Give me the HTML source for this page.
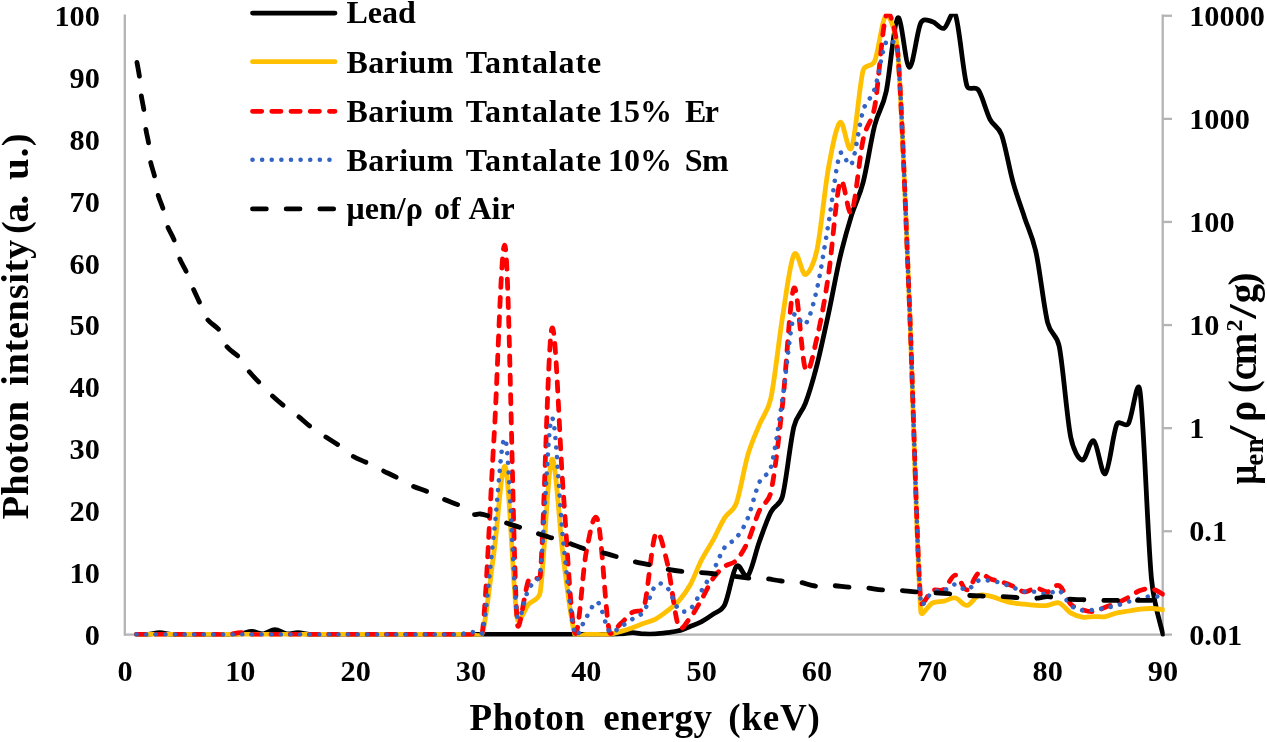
<!DOCTYPE html>
<html><head><meta charset="utf-8"><title>chart</title>
<style>html,body{margin:0;padding:0;background:#fff;}body{width:1267px;height:742px;overflow:hidden;position:relative;font-family:"Liberation Serif",serif;}</style></head>
<body>
<svg width="1267" height="742" viewBox="0 0 1267 742" style="position:absolute;left:0;top:0;display:block;will-change:transform">
<rect width="1267" height="742" fill="#fff"/>
<defs><filter id="soft" x="0" y="0" width="1267" height="742" filterUnits="userSpaceOnUse"><feGaussianBlur stdDeviation="0.45"/></filter></defs>
<g filter="url(#soft)">
<g stroke="#b4b4b4" stroke-width="2.3" fill="none">
<path d="M124.8,14.6 V635.7"/>
<path d="M124,634.6 H1172"/>
<path d="M1162.7,14.6 V635.7"/>
<path d="M1163,15.75 H1172"/>
<path d="M1163,118.85 H1172"/>
<path d="M1163,221.95 H1172"/>
<path d="M1163,325.05 H1172"/>
<path d="M1163,428.15 H1172"/>
<path d="M1163,531.25 H1172"/>
</g>
<defs><clipPath id="pa"><rect x="120" y="13.85" width="1044.7" height="622.75"/></clipPath></defs>
<g clip-path="url(#pa)" fill="none" stroke-linejoin="round" stroke-linecap="round" stroke-width="4.8">
<path stroke="#000" d="M136.53,634.50C138.46,634.50 144.22,634.81 148.07,634.50C151.91,634.19 155.76,632.64 159.60,632.64C163.44,632.64 167.29,634.19 171.13,634.50C174.98,634.81 178.82,634.50 182.67,634.50C186.51,634.50 190.36,634.50 194.20,634.50C198.04,634.50 201.89,634.50 205.73,634.50C209.58,634.50 213.42,634.50 217.27,634.50C221.11,634.50 224.96,634.60 228.80,634.50C232.64,634.40 236.49,634.40 240.33,633.88C244.18,633.37 248.02,631.41 251.87,631.41C255.71,631.41 259.56,634.19 263.40,633.88C267.24,633.57 271.09,629.55 274.93,629.55C278.78,629.55 282.62,633.37 286.47,633.88C290.31,634.40 294.16,632.54 298.00,632.64C301.84,632.75 305.69,634.19 309.53,634.50C313.38,634.81 317.22,634.50 321.07,634.50C324.91,634.50 328.76,634.50 332.60,634.50C336.44,634.50 340.29,634.50 344.13,634.50C347.98,634.50 351.82,634.50 355.67,634.50C359.51,634.50 363.36,634.50 367.20,634.50C371.04,634.50 374.89,634.50 378.73,634.50C382.58,634.50 386.42,634.50 390.27,634.50C394.11,634.50 397.96,634.50 401.80,634.50C405.64,634.50 409.49,634.50 413.33,634.50C417.18,634.50 421.02,634.50 424.87,634.50C428.71,634.50 432.56,634.50 436.40,634.50C440.24,634.50 444.09,634.50 447.93,634.50C451.78,634.50 455.62,634.50 459.47,634.50C463.31,634.50 467.16,634.50 471.00,634.50C474.84,634.50 478.69,634.50 482.53,634.50C486.38,634.50 490.22,634.50 494.07,634.50C497.91,634.50 501.76,634.50 505.60,634.50C509.44,634.50 513.29,634.50 517.13,634.50C520.98,634.50 524.82,634.50 528.67,634.50C532.51,634.50 536.36,634.50 540.20,634.50C544.04,634.50 547.89,634.50 551.73,634.50C555.58,634.50 559.42,634.50 563.27,634.50C567.11,634.50 570.96,634.50 574.80,634.50C578.64,634.50 582.49,634.50 586.33,634.50C590.18,634.50 594.02,634.50 597.87,634.50C601.71,634.50 605.56,634.60 609.40,634.50C613.24,634.40 617.09,634.19 620.93,633.88C624.78,633.57 628.62,632.64 632.47,632.64C636.31,632.64 640.16,633.68 644.00,633.88C647.84,634.09 651.69,634.09 655.53,633.88C659.38,633.68 663.22,633.16 667.07,632.64C670.91,632.13 674.76,631.82 678.60,630.79C682.44,629.76 686.29,628.01 690.13,626.46C693.98,624.91 697.82,623.57 701.67,621.51C705.51,619.45 709.36,616.87 713.20,614.09C717.04,611.31 721.51,611.47 724.73,604.81C728.58,596.87 732.42,571.31 736.27,566.47C740.11,561.62 743.96,579.87 747.80,575.74C751.64,571.62 755.49,552.34 759.33,541.73C763.18,531.11 767.02,519.56 770.87,512.04C774.71,504.51 779.88,505.89 782.40,496.57C786.24,482.35 790.09,442.25 793.93,426.68C797.07,413.98 801.62,413.49 805.47,403.18C809.31,392.87 813.16,379.78 817.00,364.83C820.84,349.89 824.69,331.44 828.53,313.50C832.38,295.56 836.22,273.61 840.07,257.21C843.91,240.82 847.76,227.63 851.60,215.16C855.44,202.68 859.29,197.32 863.13,182.38C866.98,167.43 870.82,140.63 874.67,125.47C878.51,110.32 882.44,109.02 886.20,91.46C890.04,73.52 893.89,21.88 897.73,17.86C901.58,13.84 905.42,66.51 909.27,67.34C913.11,68.16 916.96,30.43 920.80,22.80C923.41,17.62 928.49,20.64 932.33,21.57C936.18,22.49 940.02,29.50 943.87,28.37C947.71,27.24 952.08,6.49 955.40,14.76C959.24,24.35 963.09,73.31 966.93,85.89C968.73,91.78 974.97,85.15 978.47,90.22C982.31,95.79 986.16,111.87 990.00,119.29C993.84,126.71 998.22,125.69 1001.53,134.75C1005.38,145.27 1009.22,168.56 1013.07,182.38C1016.91,196.19 1020.76,205.88 1024.60,217.63C1028.44,229.38 1032.29,235.36 1036.13,252.89C1039.98,270.41 1043.82,307.21 1047.67,322.78C1050.81,335.48 1056.61,333.45 1059.20,346.28C1063.04,365.35 1066.89,418.23 1070.73,437.20C1073.28,449.76 1078.42,459.46 1082.27,460.08C1086.11,460.70 1089.96,438.64 1093.80,440.91C1097.64,443.18 1101.49,476.47 1105.33,473.69C1109.18,470.91 1113.02,432.56 1116.87,424.21C1119.28,418.96 1125.12,428.34 1128.40,423.59C1132.24,418.02 1137.38,373.62 1139.93,390.81C1143.78,416.68 1147.62,538.22 1151.47,578.84C1154.15,607.13 1161.08,625.22 1163.00,634.50"/>
<path stroke="#FFC000" d="M136.53,634.50C138.46,634.50 144.22,634.50 148.07,634.50C151.91,634.50 155.76,634.50 159.60,634.50C163.44,634.50 167.29,634.50 171.13,634.50C174.98,634.50 178.82,634.50 182.67,634.50C186.51,634.50 190.36,634.50 194.20,634.50C198.04,634.50 201.89,634.50 205.73,634.50C209.58,634.50 213.42,634.50 217.27,634.50C221.11,634.50 224.96,634.50 228.80,634.50C232.64,634.50 236.49,634.50 240.33,634.50C244.18,634.50 248.02,634.50 251.87,634.50C255.71,634.50 259.56,634.50 263.40,634.50C267.24,634.50 271.09,634.50 274.93,634.50C278.78,634.50 282.62,634.50 286.47,634.50C290.31,634.50 294.16,634.50 298.00,634.50C301.84,634.50 305.69,634.50 309.53,634.50C313.38,634.50 317.22,634.50 321.07,634.50C324.91,634.50 328.76,634.50 332.60,634.50C336.44,634.50 340.29,634.50 344.13,634.50C347.98,634.50 351.82,634.50 355.67,634.50C359.51,634.50 363.36,634.50 367.20,634.50C371.04,634.50 374.89,634.50 378.73,634.50C382.58,634.50 386.42,634.50 390.27,634.50C394.11,634.50 397.96,634.50 401.80,634.50C405.64,634.50 409.49,634.50 413.33,634.50C417.18,634.50 421.02,634.50 424.87,634.50C428.71,634.50 432.56,634.50 436.40,634.50C440.24,634.50 444.09,634.50 447.93,634.50C451.78,634.50 455.62,634.50 459.47,634.50C463.31,634.50 467.16,634.81 471.00,634.50C474.84,634.19 480.97,638.27 482.53,632.64C486.38,618.83 490.22,579.14 494.07,551.62C497.91,524.10 501.76,456.37 505.60,467.50C509.44,478.64 513.29,595.64 517.13,618.42C518.66,627.45 524.82,608.52 528.67,604.19C532.51,599.86 538.90,600.57 540.20,592.44C544.04,568.32 547.89,465.24 551.73,459.46C555.58,453.69 559.42,528.63 563.27,557.81C567.11,586.98 570.96,621.72 574.80,634.50C576.46,640.02 582.49,634.50 586.33,634.50C590.18,634.50 594.02,634.50 597.87,634.50C601.71,634.50 605.56,635.02 609.40,634.50C613.24,633.98 617.09,632.54 620.93,631.41C624.78,630.27 628.62,629.04 632.47,627.70C636.31,626.36 640.16,624.81 644.00,623.37C647.84,621.92 651.69,621.10 655.53,619.04C659.38,616.98 663.22,613.99 667.07,611.00C670.91,608.01 674.76,605.43 678.60,601.10C682.44,596.77 686.29,591.93 690.13,585.02C693.98,578.11 697.82,567.19 701.67,559.66C705.51,552.14 709.36,546.88 713.20,539.87C717.04,532.86 720.89,523.69 724.73,517.60C728.58,511.52 733.09,511.97 736.27,503.38C740.11,492.97 743.96,468.23 747.80,455.13C751.64,442.04 755.49,434.31 759.33,424.83C763.18,415.34 767.81,412.40 770.87,398.23C774.71,380.40 778.56,341.74 782.40,317.83C786.24,293.91 790.09,261.96 793.93,254.74C797.78,247.53 801.62,275.36 805.47,274.53C809.31,273.71 814.12,263.13 817.00,249.79C820.84,231.96 824.69,188.77 828.53,167.53C832.38,146.30 836.22,125.68 840.07,122.38C843.91,119.08 847.76,156.40 851.60,147.74C855.44,139.08 859.29,84.86 863.13,70.43C865.04,63.28 871.81,67.98 874.67,61.15C878.51,51.98 882.36,16.93 886.20,15.38C890.04,13.84 896.19,32.80 897.73,51.87C901.58,99.39 905.42,207.22 909.27,300.51C913.11,393.80 916.96,561.21 920.80,611.62C921.35,618.81 928.49,604.71 932.33,602.96C936.18,601.20 940.02,601.93 943.87,601.10C947.71,600.28 951.56,597.29 955.40,598.01C959.24,598.73 963.09,605.84 966.93,605.43C970.78,605.02 974.62,597.08 978.47,595.53C982.31,593.99 986.16,595.43 990.00,596.15C993.84,596.87 997.69,598.73 1001.53,599.86C1005.38,601.00 1009.22,602.23 1013.07,602.96C1016.91,603.68 1020.76,603.78 1024.60,604.19C1028.44,604.61 1032.29,605.22 1036.13,605.43C1039.98,605.64 1043.82,605.84 1047.67,605.43C1051.51,605.02 1055.36,601.72 1059.20,602.96C1063.04,604.19 1066.89,610.48 1070.73,612.85C1074.58,615.22 1078.42,616.56 1082.27,617.18C1086.11,617.80 1089.96,616.67 1093.80,616.56C1097.64,616.46 1101.49,617.18 1105.33,616.56C1109.18,615.94 1113.02,613.78 1116.87,612.85C1120.71,611.92 1124.56,611.62 1128.40,611.00C1132.24,610.38 1136.09,609.55 1139.93,609.14C1143.78,608.73 1147.62,608.42 1151.47,608.52C1155.31,608.63 1161.08,609.55 1163.00,609.76"/>
<path stroke="#FF0000" stroke-dasharray="9.22 10.02" d="M136.53,634.50C138.46,634.50 144.22,634.50 148.07,634.50C151.91,634.50 155.76,634.50 159.60,634.50C163.44,634.50 167.29,634.50 171.13,634.50C174.98,634.50 178.82,634.50 182.67,634.50C186.51,634.50 190.36,634.50 194.20,634.50C198.04,634.50 201.89,634.50 205.73,634.50C209.58,634.50 213.42,634.50 217.27,634.50C221.11,634.50 224.96,634.81 228.80,634.50C232.64,634.19 236.49,632.64 240.33,632.64C244.18,632.64 248.02,634.19 251.87,634.50C255.71,634.81 259.56,634.50 263.40,634.50C267.24,634.50 271.09,634.50 274.93,634.50C278.78,634.50 282.62,634.50 286.47,634.50C290.31,634.50 294.16,634.50 298.00,634.50C301.84,634.50 305.69,634.50 309.53,634.50C313.38,634.50 317.22,634.50 321.07,634.50C324.91,634.50 328.76,634.50 332.60,634.50C336.44,634.50 340.29,634.50 344.13,634.50C347.98,634.50 351.82,634.50 355.67,634.50C359.51,634.50 363.36,634.50 367.20,634.50C371.04,634.50 374.89,634.50 378.73,634.50C382.58,634.50 386.42,634.50 390.27,634.50C394.11,634.50 397.96,634.50 401.80,634.50C405.64,634.50 409.49,634.50 413.33,634.50C417.18,634.50 421.02,634.50 424.87,634.50C428.71,634.50 432.56,634.50 436.40,634.50C440.24,634.50 444.09,634.50 447.93,634.50C451.78,634.50 455.62,634.50 459.47,634.50C463.31,634.50 467.16,635.02 471.00,634.50C474.84,633.98 481.84,637.34 482.53,631.41C486.38,598.42 490.22,500.29 494.07,436.58C497.91,372.87 501.76,218.35 505.60,249.17C509.44,280.00 513.29,566.36 517.13,621.51C518.63,642.97 524.82,587.70 528.67,580.07C531.44,574.57 539.64,581.88 540.20,575.74C544.04,533.89 547.89,342.88 551.73,328.96C555.58,315.04 559.42,441.63 563.27,492.25C567.11,542.86 570.96,622.75 574.80,632.64C578.64,642.54 582.49,570.28 586.33,551.62C589.66,535.46 594.02,507.40 597.87,520.70C601.71,533.99 605.56,614.30 609.40,631.41C610.94,638.27 617.09,626.56 620.93,623.37C624.78,620.17 628.62,614.91 632.47,612.23C636.31,609.55 642.22,613.30 644.00,607.29C647.84,594.30 651.69,541.83 655.53,534.30C659.38,526.78 663.41,547.52 667.07,562.14C670.91,577.49 674.76,617.18 678.60,626.46C681.36,633.12 686.29,622.34 690.13,617.80C693.98,613.26 697.82,605.84 701.67,599.25C705.51,592.65 709.36,583.68 713.20,578.22C717.04,572.75 720.89,569.45 724.73,566.47C728.58,563.48 732.42,564.40 736.27,560.28C740.11,556.16 743.96,549.97 747.80,541.73C751.64,533.48 755.49,519.05 759.33,510.80C763.18,502.55 768.53,502.91 770.87,492.25C774.71,474.72 778.56,439.67 782.40,405.65C786.24,371.64 790.09,294.22 793.93,288.14C797.78,282.06 801.62,360.92 805.47,369.16C809.31,377.41 813.16,353.39 817.00,337.62C820.84,321.85 824.69,300.41 828.53,274.53C832.38,248.66 836.22,192.79 840.07,182.38C843.91,171.97 847.76,219.18 851.60,212.06C855.44,204.95 859.29,157.22 863.13,139.70C866.86,122.73 871.50,124.00 874.67,106.92C878.51,86.20 882.36,24.56 886.20,15.38C890.04,6.21 896.19,32.80 897.73,51.87C901.58,99.39 905.42,208.87 909.27,300.51C913.11,392.15 916.96,553.37 920.80,601.72C921.44,609.71 928.49,592.65 932.33,590.59C936.18,588.52 940.02,591.93 943.87,589.35C947.71,586.77 951.56,575.02 955.40,575.12C959.24,575.23 963.09,590.28 966.93,589.97C970.78,589.66 974.62,575.12 978.47,573.27C982.31,571.41 986.16,577.39 990.00,578.84C993.84,580.28 997.69,580.69 1001.53,581.93C1005.38,583.16 1009.22,584.61 1013.07,586.26C1016.91,587.91 1020.76,591.51 1024.60,591.82C1028.44,592.13 1032.29,588.11 1036.13,588.11C1039.98,588.11 1043.82,592.24 1047.67,591.82C1051.51,591.41 1055.36,583.58 1059.20,585.64C1063.04,587.70 1066.89,600.17 1070.73,604.19C1074.58,608.21 1078.42,608.52 1082.27,609.76C1086.11,611.00 1089.96,612.03 1093.80,611.62C1097.64,611.20 1101.49,608.73 1105.33,607.29C1109.18,605.84 1113.02,604.61 1116.87,602.96C1120.71,601.31 1124.56,599.45 1128.40,597.39C1132.24,595.33 1136.09,592.03 1139.93,590.59C1143.78,589.14 1147.62,588.11 1151.47,588.73C1155.31,589.35 1161.08,593.37 1163.00,594.30"/>
<path stroke="#3163C5" stroke-width="4.6" stroke-dasharray="0.01 9.61" d="M136.53,634.50C138.46,634.50 144.22,634.50 148.07,634.50C151.91,634.50 155.76,634.50 159.60,634.50C163.44,634.50 167.29,634.50 171.13,634.50C174.98,634.50 178.82,634.50 182.67,634.50C186.51,634.50 190.36,634.50 194.20,634.50C198.04,634.50 201.89,634.50 205.73,634.50C209.58,634.50 213.42,634.50 217.27,634.50C221.11,634.50 224.96,634.50 228.80,634.50C232.64,634.50 236.49,634.50 240.33,634.50C244.18,634.50 248.02,634.50 251.87,634.50C255.71,634.50 259.56,634.50 263.40,634.50C267.24,634.50 271.09,634.50 274.93,634.50C278.78,634.50 282.62,634.50 286.47,634.50C290.31,634.50 294.16,634.50 298.00,634.50C301.84,634.50 305.69,634.50 309.53,634.50C313.38,634.50 317.22,634.50 321.07,634.50C324.91,634.50 328.76,634.50 332.60,634.50C336.44,634.50 340.29,634.50 344.13,634.50C347.98,634.50 351.82,634.50 355.67,634.50C359.51,634.50 363.36,634.50 367.20,634.50C371.04,634.50 374.89,634.50 378.73,634.50C382.58,634.50 386.42,634.50 390.27,634.50C394.11,634.50 397.96,634.50 401.80,634.50C405.64,634.50 409.49,634.50 413.33,634.50C417.18,634.50 421.02,634.50 424.87,634.50C428.71,634.50 432.56,634.50 436.40,634.50C440.24,634.50 444.09,634.50 447.93,634.50C451.78,634.50 455.62,634.91 459.47,634.50C463.31,634.09 467.16,632.44 471.00,632.03C474.84,631.61 481.23,637.64 482.53,632.03C486.38,615.43 490.22,564.40 494.07,532.45C497.91,500.49 501.76,426.48 505.60,440.29C509.44,454.10 513.29,590.59 517.13,615.33C519.36,629.65 524.82,595.84 528.67,588.73C532.51,581.62 538.88,582.46 540.20,572.65C544.04,544.20 547.89,423.18 551.73,418.02C555.58,412.87 559.42,505.96 563.27,541.73C567.11,577.49 570.96,620.07 574.80,632.64C577.62,641.87 582.49,622.23 586.33,617.18C590.18,612.13 594.02,599.97 597.87,602.34C601.71,604.71 605.56,627.39 609.40,631.41C613.24,635.43 617.09,628.52 620.93,626.46C624.78,624.40 628.62,621.61 632.47,619.04C636.31,616.46 640.16,616.56 644.00,611.00C647.84,605.43 651.69,589.56 655.53,585.64C659.38,581.72 663.22,583.58 667.07,587.49C670.91,591.41 674.76,605.53 678.60,609.14C682.44,612.75 686.29,612.23 690.13,609.14C693.98,606.05 697.82,596.98 701.67,590.59C705.51,584.20 709.36,578.01 713.20,570.79C717.04,563.58 720.89,552.75 724.73,547.29C728.58,541.83 732.42,542.86 736.27,538.01C740.11,533.17 743.96,527.50 747.80,518.22C751.64,508.94 755.49,490.80 759.33,482.35C763.18,473.90 768.35,476.56 770.87,467.50C774.71,453.69 778.56,424.83 782.40,399.47C786.24,374.11 790.09,327.93 793.93,315.35C796.04,308.46 801.62,328.45 805.47,324.01C809.31,319.58 813.16,305.56 817.00,288.76C820.84,271.96 824.69,245.67 828.53,223.20C832.38,200.73 836.22,163.82 840.07,153.93C842.82,146.84 848.03,170.53 851.60,163.82C855.44,156.61 859.29,123.10 863.13,110.63C866.75,98.91 870.82,100.43 874.67,88.98C878.51,77.54 882.36,48.16 886.20,41.98C890.04,35.79 897.06,44.30 897.73,51.87C901.58,94.96 905.42,208.66 909.27,300.51C913.11,392.36 916.96,554.40 920.80,602.96C921.43,610.95 928.49,593.89 932.33,591.82C936.18,589.76 940.02,591.82 943.87,590.59C947.71,589.35 951.56,584.50 955.40,584.40C959.24,584.30 963.09,590.59 966.93,589.97C970.78,589.35 974.62,582.24 978.47,580.69C982.31,579.14 986.16,580.28 990.00,580.69C993.84,581.10 997.69,582.03 1001.53,583.16C1005.38,584.30 1009.22,586.05 1013.07,587.49C1016.91,588.94 1020.76,591.10 1024.60,591.82C1028.44,592.55 1032.29,591.41 1036.13,591.82C1039.98,592.24 1043.82,594.50 1047.67,594.30C1051.51,594.09 1055.36,588.73 1059.20,590.59C1063.04,592.44 1066.89,602.13 1070.73,605.43C1074.58,608.73 1078.42,609.66 1082.27,610.38C1086.11,611.10 1089.96,610.17 1093.80,609.76C1097.64,609.35 1101.49,608.63 1105.33,607.90C1109.18,607.18 1113.02,606.46 1116.87,605.43C1120.71,604.40 1124.56,602.85 1128.40,601.72C1132.24,600.59 1136.09,599.55 1139.93,598.63C1143.78,597.70 1147.62,596.36 1151.47,596.15C1155.31,595.95 1161.08,597.18 1163.00,597.39"/>
<path stroke="#000" stroke-dasharray="13.83 19.84" stroke-dashoffset="-2.6" d="M136.50,60.00C137.00,62.82 138.73,71.17 139.50,76.90C140.27,82.63 140.35,88.75 141.10,94.40C141.85,100.05 143.23,105.17 144.00,110.80C144.77,116.43 144.92,122.73 145.70,128.20C146.48,133.67 147.92,138.13 148.70,143.60C149.48,149.07 149.37,155.35 150.40,161.00C151.43,166.65 153.63,171.90 154.90,177.50C156.17,183.10 156.63,189.35 158.00,194.60C159.37,199.85 161.57,203.87 163.10,209.00C164.63,214.13 165.32,220.10 167.20,225.40C169.08,230.70 172.35,235.33 174.40,240.80C176.45,246.27 177.45,252.90 179.50,258.20C181.55,263.50 184.47,267.63 186.70,272.60C188.93,277.57 190.68,282.87 192.90,288.00C195.12,293.13 197.60,298.20 200.00,303.40C202.40,308.60 204.00,314.63 207.30,319.20C210.60,323.77 216.60,326.30 219.80,330.80C223.00,335.30 223.25,341.75 226.50,346.20C229.75,350.65 235.63,353.40 239.30,357.50C242.97,361.60 245.08,366.53 248.50,370.80C251.92,375.07 256.03,379.10 259.80,383.10C263.57,387.10 267.00,390.93 271.10,394.80C275.20,398.67 279.97,402.78 284.40,406.30C288.83,409.82 293.25,412.42 297.70,415.90C302.15,419.38 306.67,423.85 311.10,427.20C315.53,430.55 319.67,432.97 324.30,436.00C328.93,439.03 334.22,442.08 338.90,445.40C343.58,448.72 347.62,452.95 352.40,455.90C357.18,458.85 362.67,460.70 367.60,463.10C372.53,465.50 377.00,467.83 382.00,470.30C387.00,472.77 392.62,475.33 397.60,477.90C402.58,480.47 406.88,483.38 411.90,485.70C416.92,488.02 422.50,489.58 427.70,491.80C432.90,494.02 437.88,496.77 443.10,499.00C448.32,501.23 455.18,503.45 459.00,505.20C462.82,506.95 463.67,507.97 466.00,509.50C468.33,511.03 470.60,513.65 473.00,514.40C475.40,515.15 477.53,513.63 480.40,514.00C483.27,514.37 486.07,515.18 490.20,516.60C494.33,518.02 500.10,520.65 505.20,522.50C510.30,524.35 515.50,525.90 520.80,527.70C526.10,529.50 531.63,531.53 537.00,533.30C542.37,535.07 547.58,536.63 553.00,538.30C558.42,539.97 564.13,541.50 569.50,543.30C574.87,545.10 579.85,547.55 585.20,549.10C590.55,550.65 596.30,551.33 601.60,552.60C606.90,553.87 611.70,555.23 617.00,556.70C622.30,558.17 627.93,560.03 633.40,561.40C638.87,562.77 644.33,563.63 649.80,564.90C655.27,566.17 660.72,567.90 666.20,569.00C671.68,570.10 677.40,570.93 682.70,571.50C688.00,572.07 692.53,571.98 698.00,572.40C703.47,572.82 709.67,573.40 715.50,574.00C721.33,574.60 727.50,575.33 733.00,576.00C738.50,576.67 743.18,577.58 748.50,578.00C753.82,578.42 759.43,578.00 764.90,578.50C770.37,579.00 775.65,580.42 781.30,581.00C786.95,581.58 793.15,581.17 798.80,582.00C804.45,582.83 809.73,585.42 815.20,586.00C820.67,586.58 825.97,585.30 831.60,585.50C837.23,585.70 843.35,586.82 849.00,587.20C854.65,587.58 860.02,587.35 865.50,587.80C870.98,588.25 876.43,589.48 881.90,589.90C887.37,590.32 892.67,589.97 898.30,590.30C903.93,590.63 910.08,591.50 915.70,591.90C921.32,592.30 926.53,592.40 932.00,592.70C937.47,593.00 942.78,593.27 948.50,593.70C954.22,594.13 960.75,594.92 966.30,595.30C971.85,595.68 976.47,595.82 981.80,596.00C987.13,596.18 992.60,596.15 998.30,596.40C1004.00,596.65 1010.28,597.13 1016.00,597.50C1021.72,597.87 1027.33,598.73 1032.60,598.60C1037.87,598.47 1043.53,596.72 1047.60,596.70C1051.67,596.68 1053.98,598.10 1057.00,598.50C1060.02,598.90 1061.48,598.90 1065.70,599.10C1069.92,599.30 1076.58,599.48 1082.30,599.70C1088.02,599.92 1094.10,600.28 1100.00,600.40C1105.90,600.52 1111.98,600.40 1117.70,600.40C1123.42,600.40 1128.75,600.40 1134.30,600.40C1139.85,600.40 1146.22,600.40 1151.00,600.40C1155.78,600.40 1161.00,600.40 1163.00,600.40"/>
</g>
<g fill="none" stroke-linecap="round" stroke-width="4.8">
<path stroke="#000" d="M252.5,13.1 H335.0"/>
<path stroke="#FFC000" d="M252.5,61.7 H335.0"/>
<path stroke="#FF0000" stroke-dasharray="9.22 10.02" d="M252.5,111.3 H335.0"/>
<path stroke="#3163C5" stroke-width="4.6" stroke-dasharray="0.01 9.61" d="M252.5,159.7 H335.0"/>
<path stroke="#000" stroke-dasharray="13.83 19.84" d="M252.5,208.9 H335.0"/>
</g>
<g font-family="'Liberation Serif', serif" font-weight="bold" fill="#000">
<text x="99.9" y="644.6" font-size="30.3" text-anchor="end">0</text>
<text x="99.9" y="582.8" font-size="30.3" text-anchor="end">10</text>
<text x="99.9" y="520.9" font-size="30.3" text-anchor="end">20</text>
<text x="99.9" y="459.1" font-size="30.3" text-anchor="end">30</text>
<text x="99.9" y="397.2" font-size="30.3" text-anchor="end">40</text>
<text x="99.9" y="335.4" font-size="30.3" text-anchor="end">50</text>
<text x="99.9" y="273.5" font-size="30.3" text-anchor="end">60</text>
<text x="99.9" y="211.7" font-size="30.3" text-anchor="end">70</text>
<text x="99.9" y="149.8" font-size="30.3" text-anchor="end">80</text>
<text x="99.9" y="88.0" font-size="30.3" text-anchor="end">90</text>
<text x="99.9" y="26.1" font-size="30.3" text-anchor="end">100</text>
<text x="125.0" y="680.5" font-size="30.3" text-anchor="middle">0</text>
<text x="240.3" y="680.5" font-size="30.3" text-anchor="middle">10</text>
<text x="355.7" y="680.5" font-size="30.3" text-anchor="middle">20</text>
<text x="471.0" y="680.5" font-size="30.3" text-anchor="middle">30</text>
<text x="586.3" y="680.5" font-size="30.3" text-anchor="middle">40</text>
<text x="701.7" y="680.5" font-size="30.3" text-anchor="middle">50</text>
<text x="817.0" y="680.5" font-size="30.3" text-anchor="middle">60</text>
<text x="932.3" y="680.5" font-size="30.3" text-anchor="middle">70</text>
<text x="1047.7" y="680.5" font-size="30.3" text-anchor="middle">80</text>
<text x="1163.0" y="680.5" font-size="30.3" text-anchor="middle">90</text>
<text x="1189.2" y="26.0" font-size="30.3">10000</text>
<text x="1189.2" y="129.1" font-size="30.3">1000</text>
<text x="1189.2" y="232.2" font-size="30.3">100</text>
<text x="1189.2" y="335.2" font-size="30.3">10</text>
<text x="1189.2" y="438.3" font-size="30.3">1</text>
<text x="1189.2" y="541.4" font-size="30.3">0.1</text>
<text x="1189.2" y="644.5" font-size="30.3">0.01</text>
<text x="346.4" y="23.4" font-size="32">Lead</text>
<text x="346.4" y="73.2" font-size="32" textLength="107" lengthAdjust="spacing">Barium</text>
<text x="465.8" y="73.2" font-size="32" textLength="135.3" lengthAdjust="spacing">Tantalate</text>
<text x="346.4" y="121.8" font-size="32" textLength="107" lengthAdjust="spacing">Barium</text>
<text x="465.8" y="121.8" font-size="32" textLength="135.3" lengthAdjust="spacing">Tantalate</text>
<text x="607.9" y="121.8" font-size="32">15%</text>
<text x="685.0" y="121.8" font-size="32" textLength="34" lengthAdjust="spacing">Er</text>
<text x="346.4" y="170.6" font-size="32" textLength="107" lengthAdjust="spacing">Barium</text>
<text x="465.8" y="170.6" font-size="32" textLength="135.3" lengthAdjust="spacing">Tantalate</text>
<text x="607.9" y="170.6" font-size="32">10%</text>
<text x="684.7" y="170.6" font-size="32" textLength="44" lengthAdjust="spacing">Sm</text>
<text x="346.6" y="218.9" font-size="32">μen/ρ</text>
<text x="434.0" y="218.9" font-size="32">of</text>
<text x="468.4" y="218.9" font-size="32">Air</text>
<text x="469.6" y="730" font-size="37" textLength="115.2" lengthAdjust="spacing">Photon</text>
<text x="603.2" y="730" font-size="37" textLength="108.8" lengthAdjust="spacing">energy</text>
<text x="728.3" y="730" font-size="37" textLength="91.5" lengthAdjust="spacing">(keV)</text>
<text transform="translate(28.4,519.4) rotate(-90)" font-size="38.5" textLength="118.6" lengthAdjust="spacing">Photon</text>
<text transform="translate(28.4,385.8) rotate(-90)" font-size="38.5" textLength="146" lengthAdjust="spacing">intensity</text>
<text transform="translate(28.4,234.0) rotate(-90)" font-size="38.5" textLength="39.2" lengthAdjust="spacing">(a.</text>
<text transform="translate(28.4,179.8) rotate(-90)" font-size="38.5" textLength="46.3" lengthAdjust="spacing">u.)</text>
<text transform="translate(1256.2,484.6) rotate(-90)" font-size="39" textLength="19.6" lengthAdjust="spacingAndGlyphs">μ</text>
<text transform="translate(1263.0,465.8) rotate(-90)" font-size="27" textLength="27.5" lengthAdjust="spacing">en</text>
<text transform="translate(1256.2,439.9) rotate(-90)" font-size="39" textLength="14.5" lengthAdjust="spacingAndGlyphs">/</text>
<text transform="translate(1256.2,421.8) rotate(-90)" font-size="39">ρ</text>
<text transform="translate(1256.2,393.2) rotate(-90)" font-size="39">(</text>
<text transform="translate(1256.2,380.3) rotate(-90)" font-size="39" textLength="47.5" lengthAdjust="spacing">cm</text>
<text transform="translate(1241.7,331.6) rotate(-90)" font-size="24">2</text>
<text transform="translate(1256.2,318.8) rotate(-90)" font-size="39" textLength="14.5" lengthAdjust="spacingAndGlyphs">/</text>
<text transform="translate(1256.2,303.2) rotate(-90)" font-size="39">g</text>
<text transform="translate(1256.2,285.6) rotate(-90)" font-size="39">)</text>
</g>
</g>
</svg>
</body></html>
